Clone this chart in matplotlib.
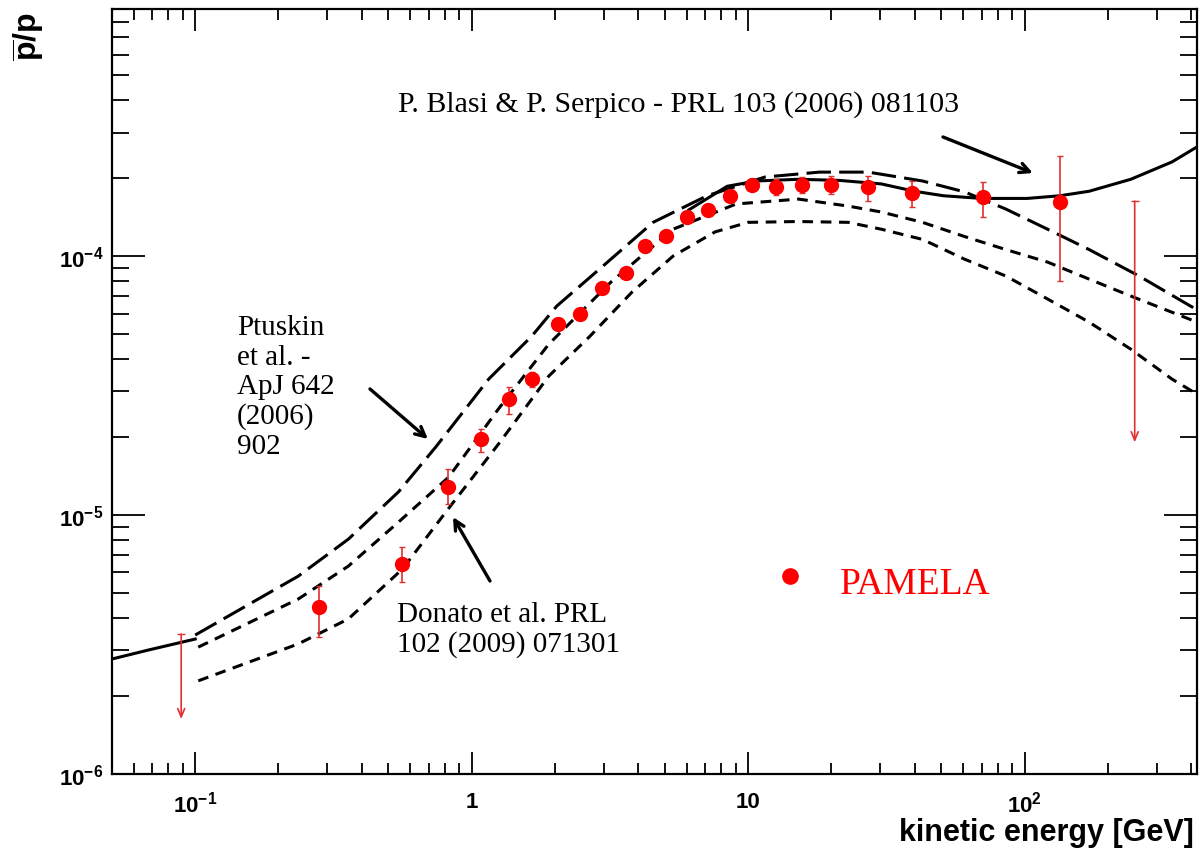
import matplotlib

matplotlib.use("Agg")
import matplotlib.pyplot as plt
from matplotlib.ticker import FixedLocator, LogLocator, NullFormatter

plt.rcParams["font.family"] = ["Liberation Sans", "DejaVu Sans"]
plt.rcParams["mathtext.fontset"] = "custom"
plt.rcParams["mathtext.rm"] = "Liberation Sans:bold"
plt.rcParams["mathtext.bf"] = "Liberation Sans:bold"
plt.rcParams["mathtext.it"] = "Liberation Sans:bold"

# %% Data
# PAMELA antiproton / proton ratio
pam_x = [0.28, 0.56, 0.82, 1.08, 1.36, 1.65, 2.05, 2.46, 2.96, 3.61, 4.23, 5.05,
         6.01, 7.17, 8.6, 10.3, 12.6, 15.7, 20.0, 27.2, 39.0, 70.5, 134.0]
pam_y = [4.41e-6, 6.47e-6, 1.28e-5, 1.96e-5, 2.80e-5, 3.35e-5, 5.46e-5, 5.97e-5,
         7.52e-5, 8.59e-5, 1.09e-4, 1.20e-4, 1.41e-4, 1.51e-4, 1.71e-4, 1.88e-4,
         1.85e-4, 1.88e-4, 1.88e-4, 1.85e-4, 1.75e-4, 1.69e-4, 1.62e-4]
pam_hi = [5.32e-6, 7.52e-6, 1.51e-5, 2.15e-5, 3.12e-5, 3.58e-5, 5.75e-5, 6.25e-5,
          7.85e-5, 8.95e-5, 1.14e-4, 1.25e-4, 1.48e-4, 1.59e-4, 1.80e-4, 1.98e-4,
          1.98e-4, 2.02e-4, 2.04e-4, 2.04e-4, 1.95e-4, 1.93e-4, 2.43e-4]
pam_lo = [3.38e-6, 5.51e-6, 1.10e-5, 1.75e-5, 2.45e-5, 3.12e-5, 5.20e-5, 5.70e-5,
          7.20e-5, 8.20e-5, 1.04e-4, 1.15e-4, 1.35e-4, 1.44e-4, 1.63e-4, 1.78e-4,
          1.72e-4, 1.75e-4, 1.74e-4, 1.63e-4, 1.55e-4, 1.41e-4, 8.0e-5]

# upper limits (bar top and arrow tip)
ul_x = [0.089, 250.0]
ul_top = [3.47e-6, 1.63e-4]
ul_tip = [1.63e-6, 1.91e-5]

# Blasi & Serpico (solid), low- and high-energy pieces
blasi_lo_x = [0.05, 0.0676, 0.1]
blasi_lo_y = [2.78e-6, 3.01e-6, 3.32e-6]
blasi_hi_x = [6.11, 8.39, 10.7, 15.2, 21.4, 30.3, 39.9, 50.9, 69.9, 102, 134, 171, 242, 341, 420]
blasi_hi_y = [1.51e-4, 1.86e-4, 1.95e-4, 1.98e-4, 1.96e-4, 1.90e-4, 1.78e-4, 1.71e-4,
              1.67e-4, 1.67e-4, 1.71e-4, 1.78e-4, 1.98e-4, 2.31e-4, 2.64e-4]

# Ptuskin et al. (long dash)
ptuskin_x = [0.1, 0.236, 0.358, 0.544, 0.741, 1.152, 1.65, 2.03, 2.98, 4.53, 7.10,
             11.5, 18.1, 27.2, 42.7, 60.6, 85.4, 121, 171, 259, 420]
ptuskin_y = [3.44e-6, 5.81e-6, 8.07e-6, 1.23e-5, 1.83e-5, 3.35e-5, 4.91e-5, 6.41e-5,
             9.14e-5, 1.35e-4, 1.71e-4, 2.02e-4, 2.11e-4, 2.11e-4, 1.95e-4, 1.77e-4,
             1.52e-4, 1.27e-4, 1.06e-4, 8.38e-5, 6.2e-5]

# Donato et al. upper / lower (short dash)
donato_up_x = [0.1026, 0.236, 0.358, 0.544, 0.825, 1.25, 1.90, 3.19, 5.35, 9.05, 15.2,
               23.0, 30.3, 42.7, 60.6, 85.4, 121, 171, 242, 420]
donato_up_y = [3.09e-6, 4.74e-6, 6.35e-6, 9.40e-6, 1.40e-5, 2.57e-5, 4.57e-5, 7.94e-5,
               1.27e-4, 1.59e-4, 1.66e-4, 1.56e-4, 1.48e-4, 1.35e-4, 1.19e-4, 1.06e-4,
               9.48e-5, 8.15e-5, 7.01e-5, 5.56e-5]
donato_lo_x = [0.1026, 0.236, 0.358, 0.562, 0.819, 1.25, 1.90, 2.68, 3.80, 5.35, 7.59,
               10.0, 15.2, 23.0, 30.3, 42.7, 60.6, 85.4, 121, 171, 242, 341, 420]
donato_lo_y = [2.29e-6, 3.18e-6, 3.97e-6, 6.19e-6, 1.05e-5, 1.88e-5, 3.44e-5, 4.91e-5,
               7.26e-5, 1.0e-4, 1.24e-4, 1.35e-4, 1.36e-4, 1.35e-4, 1.27e-4, 1.16e-4,
               9.73e-5, 8.38e-5, 6.83e-5, 5.56e-5, 4.37e-5, 3.35e-5, 2.93e-5]

x_ticks = [0.1, 1, 10, 100]
x_ticklabels = [r"$10^{-1}$", "1", "10", r"$10^{2}$"]
y_ticks = [1e-6, 1e-5, 1e-4]
y_ticklabels = [r"$10^{-6}$", r"$10^{-5}$", r"$10^{-4}$"]

# %% Figure
fig = plt.figure(figsize=(12, 8.54), dpi=100)
ax = fig.add_axes([0.0933, 0.0925, 0.9042, 0.8958])
ax.set_xscale("log")
ax.set_yscale("log")
ax.set_xlim(0.05, 420)
ax.set_ylim(1e-6, 9.0e-4)

lw = 2.2
ax.plot(blasi_lo_x, blasi_lo_y, color="black", lw=lw)
ax.plot(blasi_hi_x, blasi_hi_y, color="black", lw=lw)
ax.plot(ptuskin_x, ptuskin_y, color="black", lw=lw, dashes=(8, 2.7))
ax.plot(donato_up_x, donato_up_y, color="black", lw=lw, dashes=(3.5, 2.5))
ax.plot(donato_lo_x, donato_lo_y, color="black", lw=lw, dashes=(3.5, 2.5))

err = [[y - lo for y, lo in zip(pam_y, pam_lo)], [hi - y for y, hi in zip(pam_y, pam_hi)]]
ax.errorbar(pam_x, pam_y, yerr=err, fmt="o", color="red", ms=10, elinewidth=1.2,
            ecolor="#e03030", capsize=2.5, capthick=1.0, zorder=5)

for x, top, tip in zip(ul_x, ul_top, ul_tip):
    ax.annotate("", xy=(x, tip), xytext=(x, top),
                arrowprops=dict(arrowstyle="->,head_length=0.6,head_width=0.25",
                                color="#e03030", lw=1.2, shrinkA=0, shrinkB=0))
    ax.plot([x], [top], marker="_", ms=6, mew=1.0, color="#e03030")

# axes style (ROOT-like)
for s in ax.spines.values():
    s.set_linewidth(1.6)
ax.xaxis.set_major_locator(FixedLocator(x_ticks))
ax.yaxis.set_major_locator(FixedLocator(y_ticks))
ax.xaxis.set_minor_locator(LogLocator(base=10, subs=range(2, 10), numticks=20))
ax.yaxis.set_minor_locator(LogLocator(base=10, subs=range(2, 10), numticks=20))
ax.xaxis.set_minor_formatter(NullFormatter())
ax.yaxis.set_minor_formatter(NullFormatter())
ax.set_xticklabels(x_ticklabels, fontsize=16, fontweight="bold")
ax.set_yticklabels(y_ticklabels, fontsize=16, fontweight="bold")
ax.tick_params(axis="both", which="both", direction="in", top=True, right=True, width=1.3)
ax.tick_params(axis="x", which="major", length=16, pad=12)
ax.tick_params(axis="x", which="minor", length=8)
ax.tick_params(axis="y", which="major", length=24, pad=6)
ax.tick_params(axis="y", which="minor", length=12)

ax.text(0.997, -0.076, "kinetic energy [GeV]", transform=ax.transAxes, ha="right",
        va="center", fontsize=22, fontweight="bold")
fig.text(29 / 1200, 1 - 37 / 854, r"$\overline{\mathrm{p}}/\mathrm{p}$", rotation=90,
         ha="center", va="center", fontsize=23)

# annotations
serif = "Liberation Serif"
arrow = dict(arrowstyle="->,head_length=0.7,head_width=0.35", color="black", lw=2.4,
             shrinkA=0, shrinkB=0)
ax.text(0.264, 0.877, "P. Blasi & P. Serpico - PRL 103 (2006) 081103", transform=ax.transAxes,
        family=serif, fontsize=21.5, va="center", ha="left")
ax.annotate("", xy=(0.8488, 0.7856), xytext=(0.7659, 0.8327), xycoords="axes fraction",
            textcoords="axes fraction", arrowprops=arrow)
ax.text(0.1152, 0.5065, "Ptuskin\net al. -\nApJ 642\n(2006)\n902", transform=ax.transAxes,
        family=serif, fontsize=21, va="center", ha="left", linespacing=1.17)
ax.annotate("", xy=(0.2912, 0.4379), xytext=(0.2378, 0.5033), xycoords="axes fraction",
            textcoords="axes fraction", arrowprops=arrow)
ax.text(0.2627, 0.1895, "Donato et al. PRL\n102 (2009) 071301", transform=ax.transAxes,
        family=serif, fontsize=21, va="center", ha="left", linespacing=1.17)
ax.annotate("", xy=(0.3143, 0.3359), xytext=(0.3484, 0.2523), xycoords="axes fraction",
            textcoords="axes fraction", arrowprops=arrow)

ax.plot([0.6249], [0.2588], "o", color="red", ms=11, transform=ax.transAxes)
ax.text(0.671, 0.2484, "PAMELA", transform=ax.transAxes, family=serif, fontsize=27,
        color="red", va="center", ha="left")

fig.savefig("out.png", dpi=100)
